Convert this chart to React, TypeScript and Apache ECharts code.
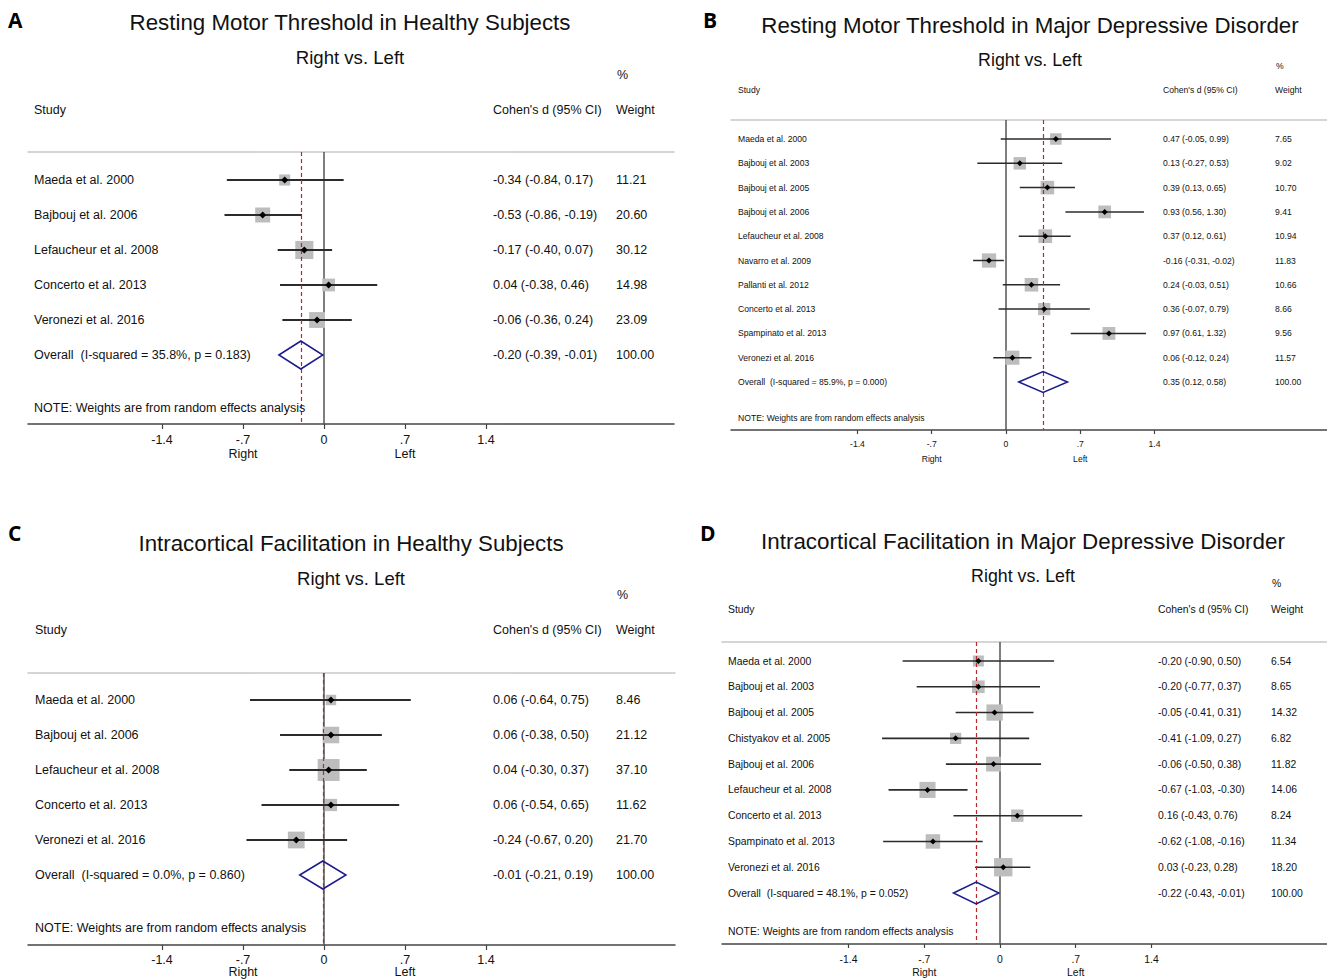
import React, { useEffect, useRef } from 'react';
import * as echarts from 'echarts';

// ---------- Data ----------
const studiesA = ['Maeda et al. 2000', 'Bajbouj et al. 2006', 'Lefaucheur et al. 2008', 'Concerto et al. 2013', 'Veronezi et al. 2016'];
const estA = [-0.34, -0.53, -0.17, 0.04, -0.06];
const loA = [-0.84, -0.86, -0.40, -0.38, -0.36];
const hiA = [0.17, -0.19, 0.07, 0.46, 0.24];
const weightA = [11.21, 20.60, 30.12, 14.98, 23.09];
const overallA = [-0.20, -0.39, -0.01];
const hetA = ['35.8%', '0.183'];

const studiesB = ['Maeda et al. 2000', 'Bajbouj et al. 2003', 'Bajbouj et al. 2005', 'Bajbouj et al. 2006', 'Lefaucheur et al. 2008', 'Navarro et al. 2009', 'Pallanti et al. 2012', 'Concerto et al. 2013', 'Spampinato et al. 2013', 'Veronezi et al. 2016'];
const estB = [0.47, 0.13, 0.39, 0.93, 0.37, -0.16, 0.24, 0.36, 0.97, 0.06];
const loB = [-0.05, -0.27, 0.13, 0.56, 0.12, -0.31, -0.03, -0.07, 0.61, -0.12];
const hiB = [0.99, 0.53, 0.65, 1.30, 0.61, -0.02, 0.51, 0.79, 1.32, 0.24];
const weightB = [7.65, 9.02, 10.70, 9.41, 10.94, 11.83, 10.66, 8.66, 9.56, 11.57];
const overallB = [0.35, 0.12, 0.58];
const hetB = ['85.9%', '0.000'];

const studiesC = ['Maeda et al. 2000', 'Bajbouj et al. 2006', 'Lefaucheur et al. 2008', 'Concerto et al. 2013', 'Veronezi et al. 2016'];
const estC = [0.06, 0.06, 0.04, 0.06, -0.24];
const loC = [-0.64, -0.38, -0.30, -0.54, -0.67];
const hiC = [0.75, 0.50, 0.37, 0.65, 0.20];
const weightC = [8.46, 21.12, 37.10, 11.62, 21.70];
const overallC = [-0.01, -0.21, 0.19];
const hetC = ['0.0%', '0.860'];

const studiesD = ['Maeda et al. 2000', 'Bajbouj et al. 2003', 'Bajbouj et al. 2005', 'Chistyakov et al. 2005', 'Bajbouj et al. 2006', 'Lefaucheur et al. 2008', 'Concerto et al. 2013', 'Spampinato et al. 2013', 'Veronezi et al. 2016'];
const estD = [-0.20, -0.20, -0.05, -0.41, -0.06, -0.67, 0.16, -0.62, 0.03];
const loD = [-0.90, -0.77, -0.41, -1.09, -0.50, -1.03, -0.43, -1.08, -0.23];
const hiD = [0.50, 0.37, 0.31, 0.27, 0.38, -0.30, 0.76, -0.16, 0.28];
const weightD = [6.54, 8.65, 14.32, 6.82, 11.82, 14.06, 8.24, 11.34, 18.20];
const overallD = [-0.22, -0.43, -0.01];
const hetD = ['48.1%', '0.052'];

const totalWeight = 100;
const TICKS = [-1.4, -0.7, 0, 0.7, 1.4];
const SIDE_LABELS = ['Right', 'Left'];
const titles = [
  'Resting Motor Threshold in Healthy Subjects',
  'Resting Motor Threshold in Major Depressive Disorder',
  'Intracortical Facilitation in Healthy Subjects',
  'Intracortical Facilitation in Major Depressive Disorder',
];
const subtitle = 'Right vs. Left';
const letters = ['A', 'B', 'C', 'D'];

// ---------- Layout (pixels) ----------
const layouts = [
  { left: 28, right: 674, top: 152, bottom: 424, zero: 324, ppu: 115.7, row0: 180, rowH: 35, font: 12.5, nameX: 34, ciX: 493, wX: 616, boxK: 3.3, diaH: 14, dot: 7, lw: 2, tickLen: 5, lblMargin: 9, lblLH: 14, titleX: 350, titleY: 22, subY: 57, titleSize: 22.3, subSize: 18.6, letterX: 8, letterY: 20 },
  { left: 731, right: 1327, top: 120, bottom: 430, zero: 1006, ppu: 106.1, row0: 139, rowH: 24.3, font: 8.6, nameX: 738, ciX: 1163, wX: 1275, boxK: 4.15, diaH: 10.5, dot: 6, lw: 1.5, tickLen: 4, lblMargin: 6.5, lblLH: 15, titleX: 1030, titleY: 25, subY: 60, titleSize: 22.3, subSize: 17.8, letterX: 703, letterY: 20 },
  { left: 28, right: 675, top: 673, bottom: 945, zero: 324, ppu: 115.7, row0: 700, rowH: 35, font: 12.5, nameX: 35, ciX: 493, wX: 616, boxK: 3.6, diaH: 14, dot: 7, lw: 2, tickLen: 5, lblMargin: 8.5, lblLH: 12, titleX: 351, titleY: 543, subY: 578, titleSize: 22.3, subSize: 18.5, letterX: 8, letterY: 533 },
  { left: 722, right: 1327, top: 642, bottom: 944, zero: 1000, ppu: 108.2, row0: 661, rowH: 25.78, font: 10.4, nameX: 728, ciX: 1158, wX: 1271, boxK: 4.3, diaH: 11, dot: 6, lw: 1.6, tickLen: 4, lblMargin: 9, lblLH: 13, titleX: 1023, titleY: 541, subY: 576, titleSize: 22.4, subSize: 17.8, letterX: 700, letterY: 533 },
];

const panels = [
  { studies: studiesA, est: estA, lo: loA, hi: hiA, w: weightA, overall: overallA, het: hetA },
  { studies: studiesB, est: estB, lo: loB, hi: hiB, w: weightB, overall: overallB, het: hetB },
  { studies: studiesC, est: estC, lo: loC, hi: hiC, w: weightC, overall: overallC, het: hetC },
  { studies: studiesD, est: estD, lo: loD, hi: hiD, w: weightD, overall: overallD, het: hetD },
];

const FONT = '"Liberation Sans", Arial, Helvetica, sans-serif';
const TEXT = '#111';

const fmtTick = (v: number) => {
  if (Math.abs(v) < 1e-9) return '0';
  const s = Math.abs(v).toFixed(1).replace(/^0/, '');
  return (v < 0 ? '-' : '') + s;
};
const ci = (e: number, l: number, h: number) => `${e.toFixed(2)} (${l.toFixed(2)}, ${h.toFixed(2)})`;

function buildOption() {
  const grid: any[] = [];
  const xAxis: any[] = [];
  const yAxis: any[] = [];
  const series: any[] = [];
  const graphic: any[] = [];

  panels.forEach((P, i) => {
    const L = layouts[i];
    const n = P.studies.length;
    const xmin = (L.left - L.zero) / L.ppu;
    const xmax = (L.right - L.zero) / L.ppu;
    const ymin = (L.top - L.row0) / L.rowH;
    const ymax = (L.bottom - L.row0) / L.rowH;

    grid.push({ left: L.left, top: L.top, width: L.right - L.left, height: L.bottom - L.top, containLabel: false, outerBoundsMode: 'none' });

    xAxis.push({
      type: 'value', gridIndex: i, min: xmin, max: xmax, position: 'bottom',
      axisLine: { show: true, onZero: false, lineStyle: { color: '#444', width: 1.5 } },
      axisTick: { show: true, customValues: TICKS, length: L.tickLen, lineStyle: { color: '#444', width: 1.2 } },
      axisLabel: {
        show: true, customValues: TICKS, margin: L.lblMargin, fontSize: L.font, lineHeight: L.lblLH,
        color: TEXT, fontFamily: FONT,
        formatter: (v: number) => {
          const t = fmtTick(v);
          if (Math.abs(v + 0.7) < 1e-9) return t + '\n' + SIDE_LABELS[0];
          if (Math.abs(v - 0.7) < 1e-9) return t + '\n' + SIDE_LABELS[1];
          return t;
        },
      },
      splitLine: { show: false },
    });
    xAxis.push({
      type: 'value', gridIndex: i, min: xmin, max: xmax, position: 'top',
      axisLine: { show: true, onZero: false, lineStyle: { color: '#c8c8c8', width: 1.5 } },
      axisTick: { show: false }, axisLabel: { show: false }, splitLine: { show: false },
    });
    yAxis.push({ type: 'value', gridIndex: i, inverse: true, min: ymin, max: ymax, show: false, axisLine: { onZero: false }, splitLine: { show: false } });

    const xi = i * 2;
    // boxes + zero line
    series.push({
      type: 'scatter', xAxisIndex: xi, yAxisIndex: i, z: 2, silent: true, symbol: 'rect',
      itemStyle: { color: '#bdbdbd', opacity: 1 },
      data: P.est.map((e, k) => ({ value: [e, k], symbolSize: L.boxK * Math.sqrt(P.w[k]) })),
      markLine: {
        silent: true, z: 1, symbol: ['none', 'none'], label: { show: false },
        lineStyle: { type: 'solid', color: '#555', width: 1.5 },
        data: [{ xAxis: 0 }],
      },
    });
    // CI lines
    series.push({
      type: 'custom', xAxisIndex: xi, yAxisIndex: i, z: 3, silent: true,
      data: P.est.map((_, k) => [P.lo[k], P.hi[k], k]),
      renderItem: (params: any, api: any) => {
        const p1 = api.coord([api.value(0), api.value(2)]);
        const p2 = api.coord([api.value(1), api.value(2)]);
        return { type: 'line', shape: { x1: p1[0], y1: p1[1], x2: p2[0], y2: p2[1] }, style: { stroke: '#2b2b2b', lineWidth: L.lw } };
      },
    });
    // point estimates + overall dashed line
    series.push({
      type: 'scatter', xAxisIndex: xi, yAxisIndex: i, z: 5, silent: true, symbol: 'diamond', symbolSize: L.dot,
      itemStyle: { color: '#000', opacity: 1 },
      data: P.est.map((e, k) => [e, k]),
      markLine: {
        silent: true, z: 4, symbol: ['none', 'none'], label: { show: false },
        lineStyle: { type: [4, 3], color: '#b8282e', width: 1.2 },
        data: [{ xAxis: P.overall[0] }],
      },
    });
    // overall diamond
    series.push({
      type: 'custom', xAxisIndex: xi, yAxisIndex: i, z: 5, silent: true,
      data: [[P.overall[1], P.overall[0], P.overall[2], n]],
      renderItem: (params: any, api: any) => {
        const r = api.value(3);
        const pl = api.coord([api.value(0), r]);
        const pe = api.coord([api.value(1), r]);
        const ph = api.coord([api.value(2), r]);
        return {
          type: 'polygon',
          shape: { points: [[pl[0], pl[1]], [pe[0], pe[1] - L.diaH], [ph[0], ph[1]], [pe[0], pe[1] + L.diaH]] },
          style: { fill: 'none', stroke: '#1c1c8c', lineWidth: 1.5 },
        };
      },
    });
    // table texts
    const rows: any[] = [];
    rows.push({ row: -3, cells: [{ x: L.wX + 1, text: '%' }] });
    rows.push({ row: -2, cells: [{ x: L.nameX, text: 'Study' }, { x: L.ciX, text: "Cohen's d (95% CI)" }, { x: L.wX, text: 'Weight' }] });
    P.studies.forEach((s, k) => rows.push({ row: k, cells: [{ x: L.nameX, text: s }, { x: L.ciX, text: ci(P.est[k], P.lo[k], P.hi[k]) }, { x: L.wX, text: P.w[k].toFixed(2) }] }));
    rows.push({ row: n, cells: [{ x: L.nameX, text: `Overall  (I-squared = ${P.het[0]}, p = ${P.het[1]})` }, { x: L.ciX, text: ci(P.overall[0], P.overall[1], P.overall[2]) }, { x: L.wX, text: totalWeight.toFixed(2) }] });
    rows.push({ row: n + 1.5, cells: [{ x: L.nameX, text: 'NOTE: Weights are from random effects analysis' }] });
    series.push({
      type: 'custom', xAxisIndex: xi, yAxisIndex: i, z: 6, silent: true, clip: false,
      data: rows.map((r) => [0, r.row]),
      renderItem: (params: any, api: any) => {
        const r = rows[params.dataIndex];
        const y = api.coord([0, api.value(1)])[1];
        return {
          type: 'group',
          children: r.cells.map((c: any) => ({
            type: 'text', x: c.x, y,
            style: { text: c.text, fill: TEXT, fontSize: L.font, fontFamily: FONT, align: 'left', verticalAlign: 'middle' },
          })),
        };
      },
    });

    graphic.push({
      type: 'text', x: L.letterX, y: L.letterY, silent: true,
      style: { text: letters[i], fill: '#000', fontSize: 21, fontWeight: 'bold', fontFamily: '"Open Sans", "Liberation Sans", Arial, sans-serif', align: 'left', verticalAlign: 'middle', textAlign: 'left', textVerticalAlign: 'middle' },
    });
    graphic.push({
      type: 'text', x: L.titleX, y: L.titleY, silent: true,
      style: { text: titles[i], fill: TEXT, fontSize: L.titleSize, fontFamily: FONT, align: 'center', verticalAlign: 'middle', textAlign: 'center', textVerticalAlign: 'middle' },
    });
    graphic.push({
      type: 'text', x: L.titleX, y: L.subY, silent: true,
      style: { text: subtitle, fill: TEXT, fontSize: L.subSize, fontFamily: FONT, align: 'center', verticalAlign: 'middle', textAlign: 'center', textVerticalAlign: 'middle' },
    });
  });

  return { animation: false, backgroundColor: '#fff', grid, xAxis, yAxis, series, graphic };
}

export default function App() {
  const ref = useRef<HTMLDivElement>(null);
  useEffect(() => {
    document.body.style.margin = '0';
    if (!ref.current) return;
    const chart = echarts.init(ref.current, undefined, { renderer: 'svg' });
    chart.setOption(buildOption() as any);
    return () => chart.dispose();
  }, []);
  return <div ref={ref} style={{ width: 1327, height: 980 }} />;
}
